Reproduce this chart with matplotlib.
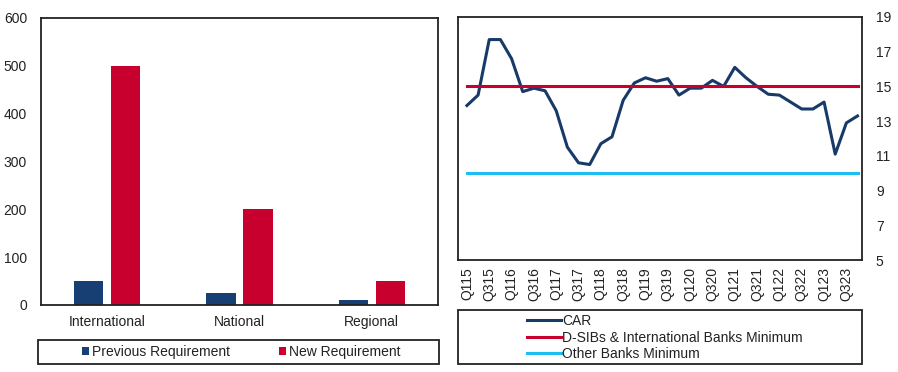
import matplotlib
matplotlib.use("Agg")
import matplotlib.pyplot as plt
from matplotlib.patches import Rectangle
import numpy as np

plt.rcParams['font.family'] = ['Liberation Sans', 'DejaVu Sans']

# ---- data ----
categories = ["International", "National", "Regional"]
prev_req = [50, 25, 10]
new_req = [500, 200, 50]

quarters = ["Q115", "Q215", "Q315", "Q415", "Q116", "Q216", "Q316", "Q416",
            "Q117", "Q217", "Q317", "Q417", "Q118", "Q218", "Q318", "Q418",
            "Q119", "Q219", "Q319", "Q419", "Q120", "Q220", "Q320", "Q420",
            "Q121", "Q221", "Q321", "Q421", "Q122", "Q222", "Q322", "Q422",
            "Q123", "Q223", "Q323", "Q423"]
car = [13.9, 14.5, 17.7, 17.7, 16.6, 14.7, 14.9, 14.75,
       13.6, 11.5, 10.6, 10.5, 11.7, 12.1, 14.2, 15.2,
       15.5, 15.3, 15.45, 14.5, 14.9, 14.9, 15.35, 15.0,
       16.1, 15.5, 15.0, 14.55, 14.5, 14.1, 13.7, 13.7,
       14.1, 11.1, 12.9, 13.3]
dsib_min = 15
other_min = 10

NAVY = "#173F73"
RED = "#C8002D"
CYAN = "#1CBFF0"
LINE_NAVY = "#183A68"
TXT = "#222222"
FS = 10

W, H = 898, 372
fig = plt.figure(figsize=(W / 100, H / 100), dpi=100)

def fx(px):
    return px / W

def fy(py):
    return 1 - py / H

# ---- left: bar chart ----
ax1 = fig.add_axes([fx(41), fy(305), fx(438 - 41), (305 - 18) / H])
x = np.arange(len(categories))
ax1.bar(x - 0.14, prev_req, width=0.22, color=NAVY, label="Previous Requirement")
ax1.bar(x + 0.14, new_req, width=0.22, color=RED, label="New Requirement")
ax1.set_xlim(-0.5, 2.5)
ax1.set_ylim(0, 600)
ax1.set_yticks(range(0, 601, 100))
ax1.set_xticks(x)
ax1.set_xticklabels(categories)
ax1.tick_params(axis='both', length=0, labelsize=FS, colors=TXT)
ax1.tick_params(axis='y', pad=10)
ax1.tick_params(axis='x', pad=7)
for s in ax1.spines.values():
    s.set_linewidth(1.3)
    s.set_color("#222222")

# left legend box
fig.patches.append(Rectangle((fx(38), fy(364)), fx(439 - 38), (364 - 340) / H,
                             transform=fig.transFigure, fill=False,
                             edgecolor="#222222", linewidth=1.3))
h1, l1 = ax1.get_legend_handles_labels()
leg1 = fig.legend(h1, l1, loc='center', bbox_to_anchor=(fx(241), fy(352)),
                  ncol=2, frameon=False, fontsize=FS, handlelength=0.55,
                  handleheight=0.55, handletextpad=0.2, columnspacing=3.5,
                  borderpad=0, labelcolor=TXT)

# ---- right: line chart ----
ax2 = fig.add_axes([fx(458), fy(260), fx(862 - 458), (260 - 17) / H])
xq = np.arange(len(quarters))
ax2.plot(xq, car, color=LINE_NAVY, linewidth=2.2, label="CAR")
ax2.plot(xq, [dsib_min] * len(xq), color=RED, linewidth=2.2,
         label="D-SIBs & International Banks Minimum")
ax2.plot(xq, [other_min] * len(xq), color=CYAN, linewidth=2.2,
         label="Other Banks Minimum")
ax2.set_xlim(-0.8, len(quarters) - 0.6)
ax2.set_ylim(5, 19)
ax2.set_yticks(range(5, 20, 2))
ax2.yaxis.tick_right()
ax2.set_xticks(xq[::2])
ax2.set_xticklabels(quarters[::2], rotation=90)
ax2.tick_params(axis='both', length=0, labelsize=FS, colors=TXT)
ax2.tick_params(axis='y', pad=10)
ax2.tick_params(axis='x', pad=5)
for s in ax2.spines.values():
    s.set_linewidth(1.3)
    s.set_color("#222222")

# right legend box
fig.patches.append(Rectangle((fx(458), fy(364)), fx(862 - 458), (364 - 310) / H,
                             transform=fig.transFigure, fill=False,
                             edgecolor="#222222", linewidth=1.3))
h2, l2 = ax2.get_legend_handles_labels()
leg2 = fig.legend(h2, l2, loc='upper left', bbox_to_anchor=(fx(519), fy(306)),
                  ncol=1, frameon=False, fontsize=FS, handlelength=2.4,
                  handletextpad=0.1, borderpad=0.1, labelspacing=0.18,
                  labelcolor=TXT)

fig.savefig("out.png", dpi=100)
